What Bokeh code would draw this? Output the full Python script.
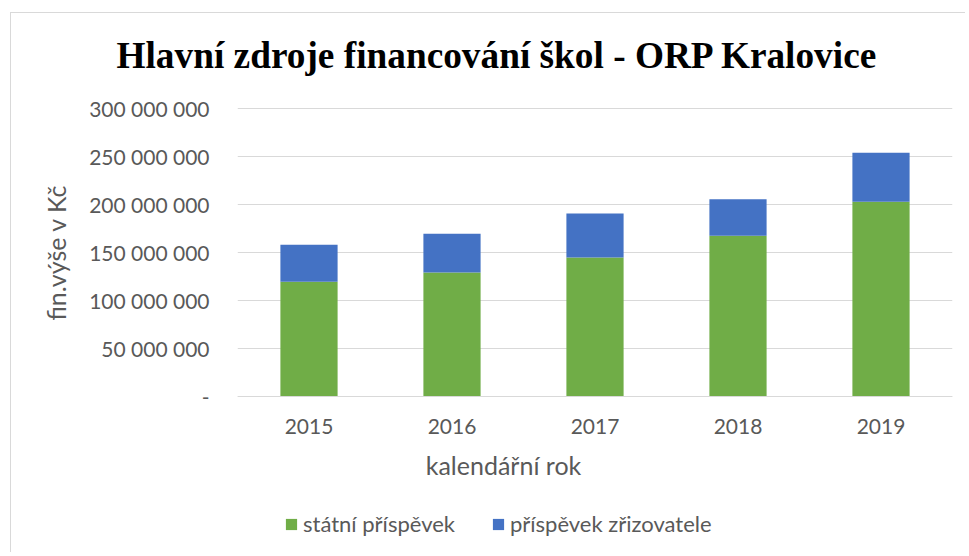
import math
from bokeh.plotting import figure
from bokeh.models import (ColumnDataSource, Range1d, FixedTicker, Label, Title,
                          Legend, LegendItem)
from bokeh.embed import file_html
from bokeh.resources import INLINE

years = ["2015", "2016", "2017", "2018", "2019"]
statni = [119.5e6, 129.2e6, 144.8e6, 167.4e6, 202.8e6]
zrizovatel = [38.5e6, 40.3e6, 45.8e6, 38.1e6, 51.0e6]
series_names = ["státní příspěvek", "příspěvek zřizovatele"]
y_tick_values = [0, 50000000, 100000000, 150000000, 200000000, 250000000, 300000000]
y_tick_labels = ["-", "50 000 000", "100 000 000", "150 000 000", "200 000 000", "250 000 000", "300 000 000"]
title_text = "Hlavní zdroje financování škol - ORP Kralovice"
x_title = "kalendářní rok"
y_title = "fin.výše v Kč"

GREEN = "#70AD47"
BLUE = "#4472C4"
GRID = "#D9D9D9"
TXT = "#595959"
FONT = "Lato"

# page geometry (canvas placed at page x=11, y=13)
W, H = 955, 540
CANVAS_Y = 13
TOP_BORDER = 94
FRAME_TOP_PAGE = CANVAS_Y + TOP_BORDER
FRAME_BOTTOM_PAGE = CANVAS_Y + H
ZERO_PAGE, TOP_TICK_PAGE = 396, 108
per_px = 300e6 / (ZERO_PAGE - TOP_TICK_PAGE)
y_start = -(FRAME_BOTTOM_PAGE - ZERO_PAGE) * per_px
y_end = (ZERO_PAGE - FRAME_TOP_PAGE) * per_px

source = ColumnDataSource(dict(year=years, statni=statni, zrizovatel=zrizovatel))

p = figure(x_range=years, y_range=Range1d(y_start, y_end),
           width=W, height=H, output_backend="svg", toolbar_location=None,
           min_border_left=226, min_border_right=14, min_border_top=TOP_BORDER,
           min_border_bottom=0,
           background_fill_color="white", border_fill_color="white")
p.styles = {"margin-left": "10px", "margin-top": "12px",
            "border-left": "1px solid #D9D9D9", "border-top": "1px solid #D9D9D9"}
p.outline_line_color = None

rs = p.vbar_stack(["statni", "zrizovatel"], x="year", width=0.4, color=[GREEN, BLUE],
                  line_color=None, source=source)

# chart title: a thin spacer panel next to the frame, then the title itself
p.title.text = ""
spacer = Title(text=" ", text_font_size="1px", standoff=29)
p.add_layout(spacer, "above")
main_title = Title(text=title_text, align="left", offset=-121,
                   vertical_align="bottom", standoff=0,
                   text_font="Liberation Serif", text_font_style="bold",
                   text_font_size="37.3px", text_color="black")
p.add_layout(main_title, "above")

# axes
p.yaxis.ticker = FixedTicker(ticks=y_tick_values)
p.yaxis.major_label_overrides = {v: l for v, l in zip(y_tick_values, y_tick_labels)}
p.yaxis.axis_line_color = None
p.yaxis.major_tick_line_color = None
p.yaxis.minor_tick_line_color = None
p.yaxis.major_tick_out = 0
p.yaxis.major_label_standoff = 28
p.yaxis.major_label_text_font = FONT
p.yaxis.major_label_text_font_size = "21px"
p.yaxis.major_label_text_color = TXT

p.xaxis.fixed_location = 0
p.xaxis.axis_line_color = GRID
p.xaxis.axis_line_width = 1
p.xaxis.major_tick_line_color = None
p.xaxis.minor_tick_line_color = None
p.xaxis.major_tick_out = 0
p.xaxis.major_label_standoff = 22
p.xaxis.major_label_text_font = FONT
p.xaxis.major_label_text_font_size = "21px"
p.xaxis.major_label_text_color = TXT

p.xgrid.grid_line_color = None
p.ygrid.ticker = FixedTicker(ticks=y_tick_values)
p.ygrid.grid_line_color = GRID
p.ygrid.grid_line_width = 1

# x-axis title (inside the frame area, below the axis)
p.add_layout(Label(x=266, y=FRAME_BOTTOM_PAGE - 464.5, x_units="screen", y_units="screen",
                   text=x_title, text_align="center", text_baseline="alphabetic",
                   text_font=FONT, text_font_size="25px", text_color=TXT))

# y-axis title in the left side panel
yt = Title(text=y_title, align="left", offset=FRAME_BOTTOM_PAGE - 320,
           vertical_align="bottom", standoff=32,
           text_font=FONT, text_font_size="25px", text_font_style="normal",
           text_color=TXT)
p.add_layout(yt, "left")

# legend
legend = Legend(items=[LegendItem(label=series_names[0], renderers=[rs[0]]),
                       LegendItem(label=series_names[1], renderers=[rs[1]])],
                orientation="horizontal", location=(47, FRAME_BOTTOM_PAGE - 537),
                padding=0, margin=0, spacing=36, border_line_color=None,
                background_fill_alpha=0, glyph_width=14, glyph_height=14,
                label_standoff=5, label_text_font=FONT, label_text_font_size="22px",
                label_text_color=TXT)
p.add_layout(legend)

open("out.html", "w").write(file_html(p, INLINE))
